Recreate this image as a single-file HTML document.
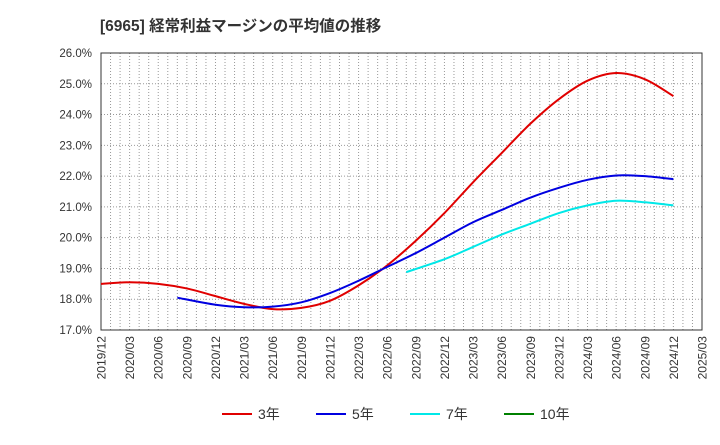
<!DOCTYPE html>
<html><head><meta charset="utf-8"><style>
body{margin:0;background:#fff;}
svg text{font-family:"Liberation Sans","Noto Sans CJK JP",sans-serif;}
</style></head><body>
<svg id="c" width="720" height="440" xmlns="http://www.w3.org/2000/svg">
<text x="100" y="31" font-size="15.5" font-weight="bold" fill="#333">[6965]  経常利益マージンの平均値の推移</text>
<g id="grid"></g><g id="axes"></g><g id="series"></g><g id="legend"></g>
</svg>
<script>
const xLabels=["2019/12","2020/03","2020/06","2020/09","2020/12","2021/03","2021/06","2021/09","2021/12","2022/03","2022/06","2022/09","2022/12","2023/03","2023/06","2023/09","2023/12","2024/03","2024/06","2024/09","2024/12","2025/03"];
const yTicks=[17,18,19,20,21,22,23,24,25,26];
// months since 2019/12
const s3Months=[0,3,6,9,12,15,18,21,24,27,30,33,36,39,42,45,48,51,54,57,60];
const s3=[18.5,18.55,18.5,18.35,18.1,17.85,17.68,17.72,17.95,18.45,19.1,19.9,20.8,21.8,22.75,23.7,24.5,25.1,25.35,25.15,24.6];
const s5Months=[8,12,15,18,21,24,27,30,33,36,39,42,45,48,51,54,57,60];
const s5=[18.05,17.82,17.74,17.76,17.9,18.2,18.6,19.05,19.5,20.0,20.5,20.9,21.3,21.62,21.88,22.02,22.0,21.9];
const s7Months=[32,36,39,42,45,48,51,54,57,60];
const s7=[18.88,19.3,19.7,20.1,20.45,20.8,21.05,21.2,21.15,21.05];
const s10Months=[];
const s10=[];
const L=101,R=702,T=53,B=330,NS="http://www.w3.org/2000/svg";
const xm=m=>L+(R-L)*m/63, xq=i=>xm(i*3), y=v=>B-(v-17)/9*(B-T);
function mk(tag,attrs,parent){const e=document.createElementNS(NS,tag);for(const k in attrs)e.setAttribute(k,attrs[k]);document.getElementById(parent).appendChild(e);return e;}
for(let m=1;m<63;m++){const x=xm(m);
const g=mk('line',{x1:x,x2:x,y1:T,y2:B,stroke:'#999','stroke-dasharray':'1,2','stroke-width':1},'grid');

}
yTicks.forEach(v=>{const yy=y(v);
const g=mk('line',{x1:L,x2:R,y1:yy,y2:yy,stroke:'#999','stroke-dasharray':'1,2'},'grid');


const t=mk('text',{x:92,y:yy+4,'font-size':11.5,fill:'#333','text-anchor':'end'},'axes');t.textContent=v.toFixed(1)+'%';

});
xLabels.forEach((l,i)=>{const x=xq(i);
const t=mk('text',{transform:`translate(${x+4.5},336) rotate(-90)`,'font-size':12,fill:'#333','text-anchor':'end'},'axes');t.textContent=l;

});
const fr=mk('rect',{x:L,y:T,width:R-L,height:B-T,fill:'none',stroke:'#333','stroke-width':1},'axes');


function path(data,months,color,name){if(!data.length)return;
const p=data.map((v,i)=>[xm(months[i]),y(v)]);let d=`M${p[0][0]},${p[0][1]}`;
for(let i=0;i<p.length-1;i++){const p0=p[i-1]||p[i],p1=p[i],p2=p[i+1],p3=p[i+2]||p2;
d+=` C${p1[0]+(p2[0]-p0[0])/6},${p1[1]+(p2[1]-p0[1])/6} ${p2[0]-(p3[0]-p1[0])/6},${p2[1]-(p3[1]-p1[1])/6} ${p2[0]},${p2[1]}`;}
const e=mk('path',{d:d,fill:'none',stroke:color,'stroke-width':2},'series');

}
path(s3,s3Months,'#e00000','line-3yr');path(s5,s5Months,'#0000e0','line-5yr');path(s7,s7Months,'#00e8e8','line-7yr');path(s10,s10Months,'#008000','line-10yr');
[['3年','#e00000',222],['5年','#0000e0',316],['7年','#00e8e8',410],['10年','#008000',504]].forEach(([l,c,x])=>{
const ln=mk('line',{x1:x,x2:x+30,y1:414,y2:414,stroke:c,'stroke-width':2},'legend');


const t=mk('text',{x:x+36,y:419,'font-size':14,fill:'#333'},'legend');t.textContent=l;

});
</script>
</body></html>
